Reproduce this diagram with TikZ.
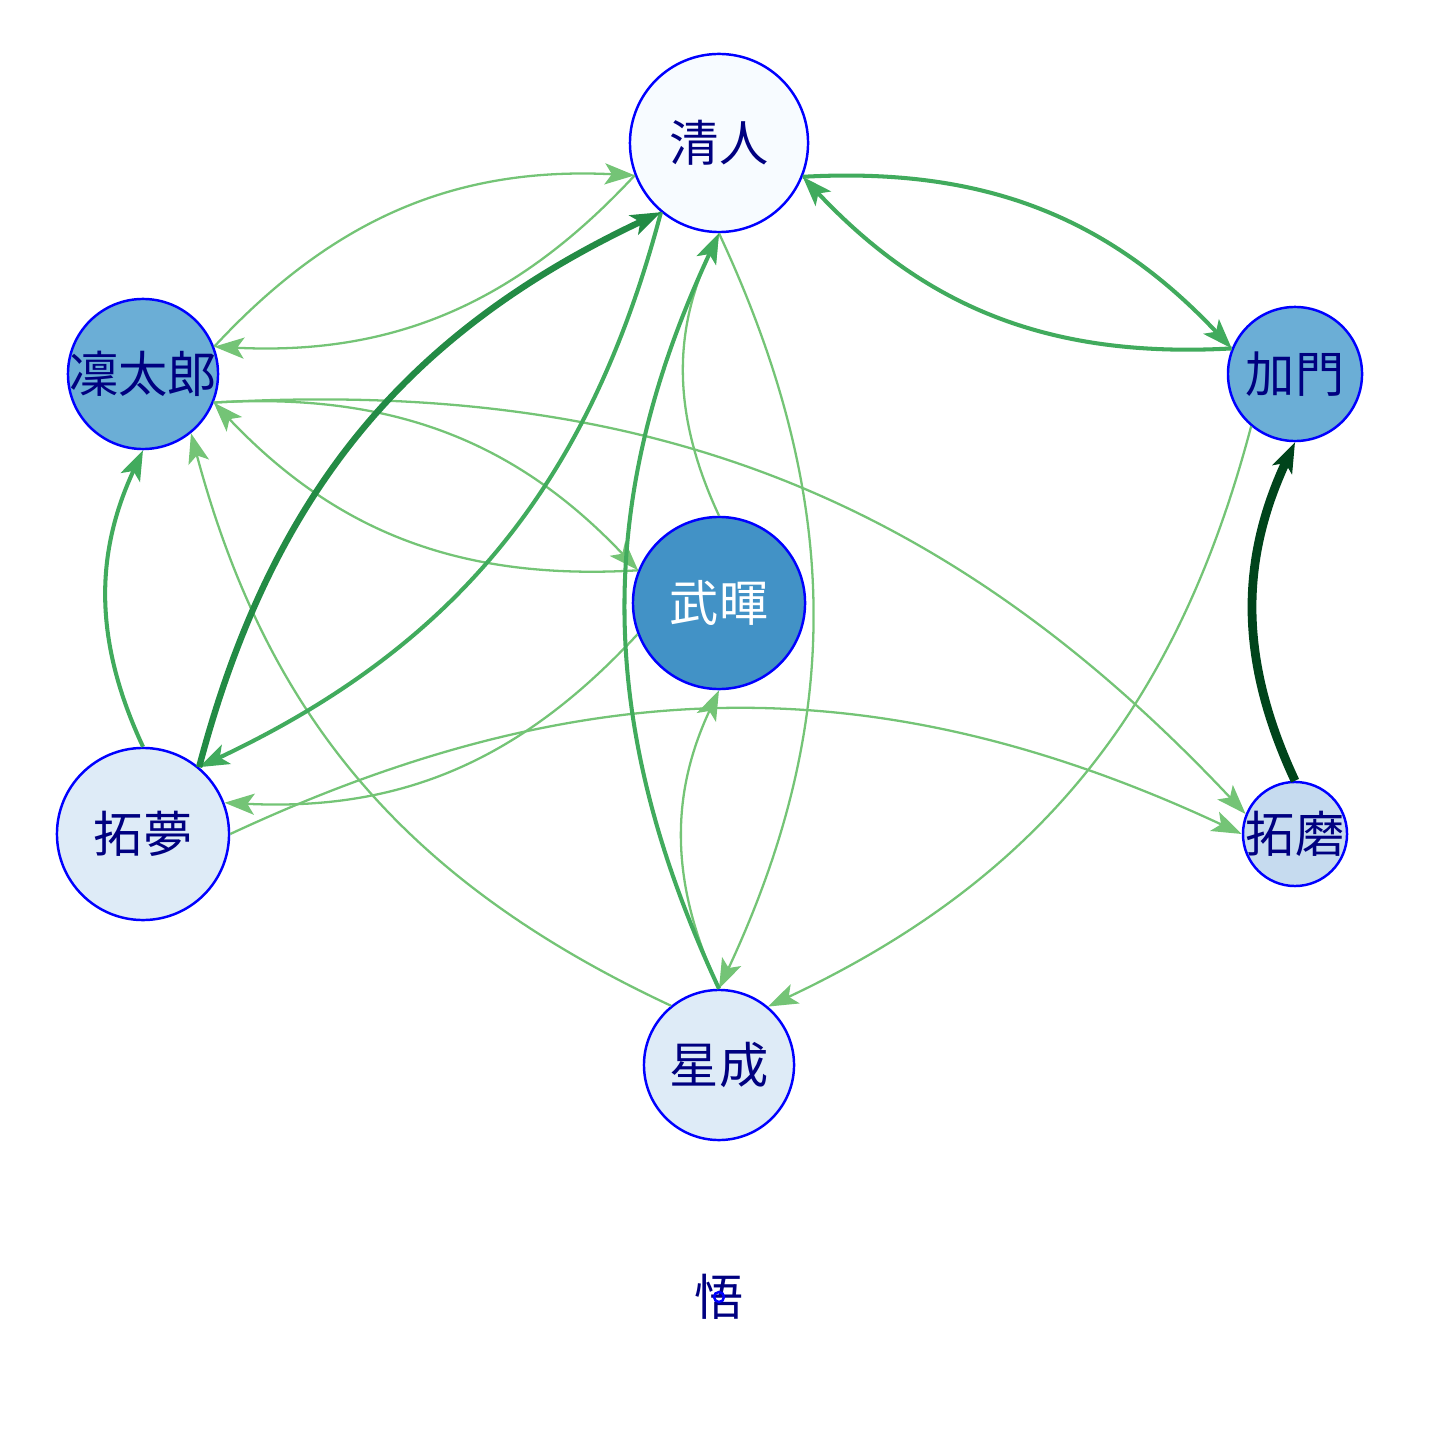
\documentclass[tikz,border=0pt]{standalone}
\usepackage{fontspec}
\usepackage{tikz}
\usetikzlibrary{arrows.meta}

\newfontfamily\cjk{Noto Sans CJK JP}

\definecolor{navytext}{RGB}{0,0,128}
\definecolor{blueA}{HTML}{F7FBFF}
\definecolor{blueB}{HTML}{DEEBF7}
\definecolor{blueC}{HTML}{C6DBEF}
\definecolor{blueD}{HTML}{6BAED6}
\definecolor{blueE}{HTML}{4292C6}
\definecolor{greenA}{HTML}{74C476}
\definecolor{greenB}{HTML}{41AB5D}
\definecolor{greenC}{HTML}{238B45}
\definecolor{greenD}{HTML}{00441B}

\tikzset{
  person/.style={circle, draw=blue, line width=0.7pt, inner sep=0pt},
  nametext/.style={font=\cjk\fontsize{14}{14}\selectfont, text=navytext},
  every label/.style={nametext},
  tie/.style={-{Stealth[length=8.5pt 0, width=6pt 0, inset=2pt]}, bend left=25},
  lighttie/.style={tie, draw=greenA, line width=0.65pt},
  midtie/.style={tie, draw=greenB, line width=1.15pt},
  darktie/.style={tie, draw=greenC, line width=1.8pt},
  deeptie/.style={tie, draw=greenD, line width=2.5pt}
}

\begin{document}
\begin{tikzpicture}[x=0.01cm,y=-0.01cm]

  % frame
  \useasboundingbox (0,0) rectangle (1440,1440);

  % people
  \node[person, fill=blueA, minimum size=1.78cm, label={[name=Q-text]center:清人}] (Q) at (719,143) {};
  \node[person, fill=blueD, minimum size=1.50cm, label={[name=R-text]center:凜太郎}] (R) at (143,374) {};
  \node[person, fill=blueD, minimum size=1.34cm, label={[name=K-text]center:加門}] (K) at (1295,374) {};
  \node[person, fill=blueE, minimum size=1.72cm, label={[name=B-text, text=white]center:武暉}] (B) at (719,603) {};
  \node[person, fill=blueB, minimum size=1.72cm, label={[name=T-text]center:拓夢}] (T) at (143,834) {};
  \node[person, fill=blueC, minimum size=1.04cm, label={[name=M-text]center:拓磨}] (M) at (1295,834) {};
  \node[person, fill=blueB, minimum size=1.50cm, label={[name=S-text]center:星成}] (S) at (719,1065) {};
  \node[nametext] (G-text) at (719,1297) {悟};
  \node[person, minimum size=0.1cm] (G) at (G-text) {};

  % ties: node.angle on the line between the centres
  \foreach \a/\i/\b/\j in {R/21.85/Q/201.85, Q/201.85/R/21.85, B/90/Q/270,
    Q/270/S/90, R/338.32/B/158.32, B/158.32/R/338.32, R/338.23/M/158.23,
    S/129.81/R/309.81, B/201.85/T/21.85, T/0/M/180, K/230.19/S/50.19,
    S/90/B/270}
  \draw[lighttie] (\a.\i) to (\b.\j);
  \foreach \a/\i/\b/\j in {Q/230.19/T/50.19, S/90/Q/270, T/90/R/270,
    Q/338.15/K/158.15, K/158.15/Q/338.15}
  \draw[midtie] (\a.\i) to (\b.\j);
  \draw[darktie] (T.50.19) to (Q.230.19);
  \draw[deeptie] (M.90) to (K.270);

\end{tikzpicture}
\end{document}
